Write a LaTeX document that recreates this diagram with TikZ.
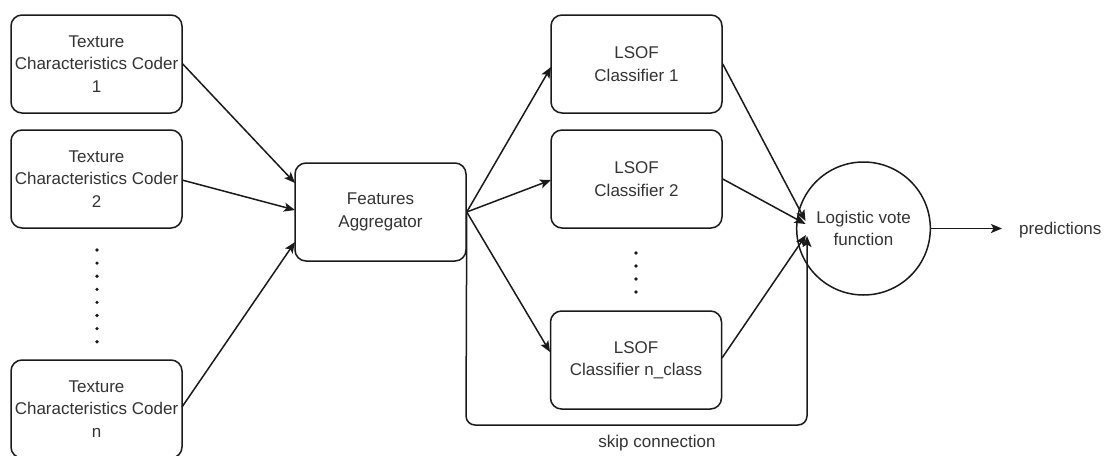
\documentclass[tikz,border=0pt]{standalone}
\usepackage{fontspec}
\setmainfont{Liberation Sans}
\usetikzlibrary{arrows.meta,shapes.geometric}
\definecolor{txt}{HTML}{333333}
\definecolor{ln}{HTML}{1A1A1A}
\begin{document}
\begin{tikzpicture}[x=1pt,y=-1pt,
  box/.style={draw=ln,line width=1.5pt,rounded corners=11pt,minimum width=171pt,minimum height=98pt,
    align=center,inner sep=0pt,text=txt,font=\fontsize{17}{22.5}\selectfont},
  oval/.style={draw=ln,line width=1.5pt,ellipse,minimum width=113pt,minimum height=133pt,inner sep=0pt,
    align=center,text=txt,font=\fontsize{17}{22.5}\selectfont},
  lbl/.style={text=txt,font=\fontsize{17}{22.5}\selectfont,inner sep=0pt},
  arr/.style={draw=ln,line width=1.5pt,-{Stealth[length=11pt,width=9pt,inset=2.5pt]}},
  dot/.style={circle,fill=ln,inner sep=0pt,minimum size=3.6pt}]
\useasboundingbox (0,0) rectangle (1107,455);
% coders
\node[box] (c1) at (96.5,64) {Texture\\Characteristics Coder\\1};
\node[box] (c2) at (96.5,179) {Texture\\Characteristics Coder\\2};
\node[box] (cn) at (96.5,409) {Texture\\Characteristics Coder\\n};
\foreach \i in {0,...,7} \node[dot] (ld\i) at (97,250+13.1*\i) {};
% aggregator
\node[box] (ag) at (380.5,212) {Features\\Aggregator};
% classifiers
\node[box] (k1) at (636.5,64) {LSOF\\Classifier 1};
\node[box] (k2) at (636.5,179) {LSOF\\Classifier 2};
\node[box] (kn) at (636,360) {LSOF\\Classifier n\_class};
\foreach \i in {0,...,3} \node[dot] (md\i) at (636,253+13*\i) {};
% vote
\node[oval] (v) at (863.5,228.5) {Logistic vote\\function};
\node[lbl,anchor=west] (p) at (1019,230) {predictions};
\node[lbl] (sk) at (657,443) {skip connection};
% coordinates
\coordinate (a1) at (295,183);
\coordinate (a2) at (295,210);
\coordinate (a3) at (295,242);
\coordinate (e1) at (805.5,221);
\coordinate (e2) at (805.5,224);
\coordinate (e3) at (806,235);
\coordinate (s1) at (466,425);
\coordinate (s2) at (807,425);
\coordinate (s3) at (807,236);
\coordinate (o1) at (1002,228.5);
% arrows
\draw[arr] (c1.east) -- (a1);
\draw[arr] (182,180) -- (a2);
\draw[arr] (182,407) -- (a3);
\draw[arr] (ag.east) -- (551,67);
\draw[arr] (ag.east) -- (551,180);
\draw[arr] (ag.east) -- (550,352);
\draw[arr] (k1.east) -- (e1);
\draw[arr] (k2.east) -- (e2);
\draw[arr] (722,358) -- (e3);
\draw[arr,rounded corners=9pt] (ag.east) -- (s1) -- (s2) -- (s3);
\draw[arr] (v.east) -- (o1);
\end{tikzpicture}
\end{document}
